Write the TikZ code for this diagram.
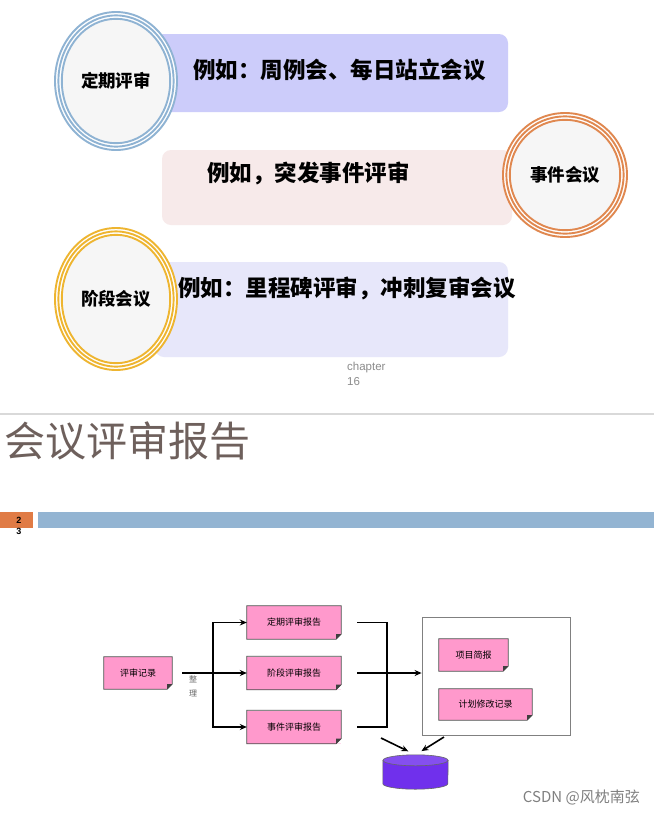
\documentclass[tikz,border=0pt]{standalone}
\usepackage{fontspec}
\setmainfont{Noto Sans CJK SC}
\setsansfont{Liberation Sans}
\usepackage{xcolor}
\usetikzlibrary{shapes.geometric,arrows.meta,calc,positioning}

\definecolor{bandblue}{RGB}{204,204,250}
\definecolor{bandpink}{RGB}{247,234,234}
\definecolor{bandlav}{RGB}{231,231,250}
\definecolor{ringblue}{RGB}{143,179,211}
\definecolor{ringorange}{RGB}{224,136,80}
\definecolor{ringyellow}{RGB}{238,181,48}
\definecolor{ringfill}{RGB}{246,246,246}
\definecolor{titlegray}{RGB}{110,96,92}
\definecolor{numorange}{RGB}{224,123,69}
\definecolor{barblue}{RGB}{147,180,210}
\definecolor{docpink}{RGB}{255,153,204}
\definecolor{dbpurple}{RGB}{112,48,236}

% three rings round an ellipse node: node, colour, rx, ry
\newcommand{\rings}[4]{%
  \draw[white, line width=7pt] (#1.center) ellipse ({#3-3.4} and {#4-3.4});
  \foreach \d in {0,3.4,6.8}
    \draw[#2, line width=1.9pt] (#1.center) ellipse ({#3-\d} and {#4-\d});
}
% outline with turned corner for a document node
\newcommand{\docfold}[1]{%
  \fill[white] ($(#1.south east)+(-5pt,0pt)$) -- (#1.south east) -- ($(#1.south east)+(0pt,5pt)$) -- cycle;
  \draw[black!70, line width=0.7pt] (#1.south west) -- (#1.north west) -- (#1.north east)
    -- ($(#1.south east)+(0pt,5pt)$) -- ($(#1.south east)+(-5pt,0pt)$) -- cycle;
  \fill[black!75] ($(#1.south east)+(0pt,5pt)$) -- ($(#1.south east)+(-5pt,5pt)$)
    -- ($(#1.south east)+(-5pt,0pt)$) -- cycle;
}

\begin{document}
\begin{tikzpicture}[
    x=1pt, y=-1pt,
    band/.style={rectangle, rounded corners=9pt, inner sep=0pt},
    ring/.style={ellipse, fill=ringfill, inner sep=0pt,
                 font=\bfseries\fontsize{17.5}{20}\selectfont},
    eg/.style={anchor=west, inner sep=0pt, font=\bfseries\fontsize{22.5}{24}\selectfont},
    doc/.style={rectangle, fill=docpink, inner sep=0pt, font=\fontsize{9}{10}\selectfont},
    arrow/.style={-{Stealth[length=7pt,width=6pt]}, line width=1.6pt},
    bracket/.style={line width=1.6pt}
]
\useasboundingbox[fill=white] (0,0) rectangle (654,815);

% upper slide
\node[band, fill=bandblue, minimum width=353pt, minimum height=78pt] (b1) at (331.5,73) {};
\node[ring, minimum width=122pt, minimum height=138pt] (dq1) at (116,81) {定期评审};
\rings{dq1}{ringblue}{61}{69}
\node[eg] (t1) at (193,70) {例如：周例会、每日站立会议};

\node[band, fill=bandpink, minimum width=350pt, minimum height=75pt] (b2) at (337,187.5) {};
\node[ring, minimum width=124pt, minimum height=124pt] (sj1) at (565,175) {事件会议};
\rings{sj1}{ringorange}{62}{62}
\node[eg] (t2) at (207,173) {例如，突发事件评审};

\node[band, fill=bandlav, minimum width=353pt, minimum height=95pt] (b3) at (331.5,309.5) {};
\node[ring, minimum width=122pt, minimum height=142pt] (jd1) at (116,299) {阶段会议};
\rings{jd1}{ringyellow}{61}{71}
\node[eg] (t3) at (178,288) {例如：里程碑评审，冲刺复审会议};

\node[anchor=north west, align=left, inner sep=0pt, text=black!45,
      font=\sffamily\fontsize{11.5}{15}\selectfont] (chap) at (347,362) {chapter\\16};

% lower slide
\draw[black!15, line width=1.2pt] (0,414) -- (654,414);
\node[anchor=west, inner sep=0pt, text=titlegray,
      font=\fontsize{41}{44}\selectfont] (title) at (4,441) {会议评审报告};
\fill[numorange] (0,512) rectangle (33,528);
\fill[barblue] (38,512) rectangle (654,528);
\node[align=center, inner sep=0pt, font=\sffamily\bfseries\fontsize{9}{11}\selectfont] (pnum) at (19,526) {2\\3};

\node[doc, minimum width=68pt, minimum height=32pt] (rec) at (138,673) {评审记录};
\node[doc, minimum width=94pt, minimum height=33pt] (dq) at (294,622.5) {定期评审报告};
\node[doc, minimum width=94pt, minimum height=33pt] (jd) at (294,673) {阶段评审报告};
\node[doc, minimum width=94pt, minimum height=33pt] (sj) at (294,727) {事件评审报告};
\docfold{rec}
\docfold{dq}
\docfold{jd}
\docfold{sj}

\node[rectangle, draw=black!50, line width=0.8pt, minimum width=148pt, minimum height=118pt] (outer) at (496,676) {};
\node[doc, minimum width=69pt, minimum height=32pt] (xm) at (473.5,655) {项目简报};
\node[doc, minimum width=93pt, minimum height=31pt] (jh) at (485.5,704.5) {计划修改记录};
\docfold{xm}
\docfold{jh}

% database
\node[rectangle, minimum width=65pt, minimum height=34pt, inner sep=0pt] (db) at (415.5,772) {};
\filldraw[fill=dbpurple, draw=black!60, line width=0.6pt]
  (db.north west) ++(0pt,-5.5pt) -- ($(db.south west)+(0pt,5.5pt)$)
  arc[start angle=180, end angle=0, x radius=32.5, y radius=5.5]
  -- ($(db.north east)+(0pt,-5.5pt)$) -- cycle;
\filldraw[fill=dbpurple!85!white, draw=black!60, line width=0.6pt]
  ($(db.north)+(0pt,-5.5pt)$) ellipse (32.5 and 5.5);

\node[align=center, inner sep=0pt, text=black!60, font=\fontsize{8}{14}\selectfont] (zl) at (193,686) {整\\理};

\coordinate (split) at (213,673);
\coordinate (merge) at (387,673);
\draw[arrow, shorten <=10pt] (rec.east) -- (jd.west);
\draw[arrow] (split) |- (dq.west);
\draw[arrow] (split) |- (sj.west);
\draw[bracket, shorten <=16pt] (dq.east) -| (merge);
\draw[bracket, shorten <=16pt] (sj.east) -| (merge);
\draw[arrow, shorten <=16pt] (jd.east) -- (jd.east -| outer.west);

\coordinate (c1) at (381,738);
\coordinate (c2) at (444,737);
\draw[arrow, shorten >=8pt] (c1) -- (db.north);
\draw[arrow, shorten >=7pt] (c2) -- (db.north);

\node[anchor=east, inner sep=0pt, text=black!50, font=\fontsize{15}{16}\selectfont] (mark) at (640,797) {CSDN @风枕南弦};
\end{tikzpicture}
\end{document}
